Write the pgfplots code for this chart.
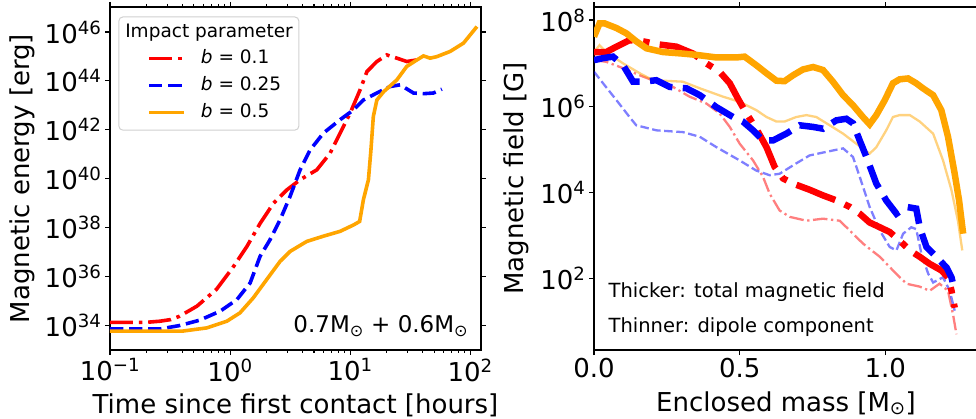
\documentclass[border=0pt]{standalone}
\usepackage{pgfplots}
\pgfplotsset{compat=1.18}
\usepackage{fontspec}
\setmainfont{DejaVu Sans}
\definecolor{mplorange}{rgb}{1,0.647,0}
\begin{document}
\begin{tikzpicture}
\path[use as bounding box] (0pt,0pt) rectangle (976pt,418pt);
\pgfplotsset{
  every axis/.append style={
    scale only axis,
    tick align=outside,
    axis line style={line width=1.3pt},
    every tick/.style={black, line width=1.1pt},
    major tick length=5pt,
    minor tick length=3pt,
    tick label style={font=\fontsize{26}{30}\selectfont},
  },
}
% ---------------- left panel ----------------
\begin{axis}[
  at={(110pt,68pt)}, anchor=south west,
  width=371pt, height=343pt,
  xmode=log, ymode=log,
  xmin=0.1, xmax=123, ymin=1e33, ymax=1.05e47,
  xtick={0.1,1,10,100},
  xticklabels={10\textsuperscript{−1},10\textsuperscript{0},10\textsuperscript{1},10\textsuperscript{2}},
  ytick={1e34,1e36,1e38,1e40,1e42,1e44,1e46},
  yticklabels={10\textsuperscript{34},10\textsuperscript{36},10\textsuperscript{38},10\textsuperscript{40},10\textsuperscript{42},10\textsuperscript{44},10\textsuperscript{46}},
  yminorticks=false,
  xlabel={Time since first contact [hours]},
  ylabel={Magnetic energy [erg]},
  every axis x label/.style={at={(axis description cs:0.5,-0.16)}, anchor=center, font=\fontsize{26}{30}\selectfont},
  every axis y label/.style={at={(axis description cs:-0.237,0.5)}, anchor=center, rotate=90, font=\fontsize{26}{30}\selectfont},
  legend image code/.code={\draw[#1] (0pt,0pt) -- (35pt,0pt);},
  legend style={draw=none, fill=none, at={(rel axis cs:0.1,0.875)}, anchor=north west,
    font=\fontsize{18.5}{22}\selectfont, inner sep=0pt, row sep=10pt, column sep=15pt,
    nodes={inner sep=0pt, text height=13.5pt, text depth=3.5pt}},
  legend cell align=left,
]
\draw[rounded corners=4pt, draw=black!18, fill=white, line width=1pt]
  (rel axis cs:0.024,0.641) rectangle (rel axis cs:0.509,0.971);
\node[font=\fontsize{18.5}{22}\selectfont] at (rel axis cs:0.267,0.924) {Impact parameter};
\addplot[red, line width=3.6pt, dash pattern=on 23pt off 5.8pt on 3.6pt off 5.8pt] coordinates {
(0.1,1.35e34) (0.2,1.35e34) (0.26,1.5e34) (0.32,1.75e34) (0.38,2.4e34) (0.53,6.2e34)
(0.77,3.0e35) (1.07,2.6e36) (1.38,1.7e37) (1.78,1.5e38) (2.3,1.0e39) (2.97,3.5e39)
(3.83,9.1e39) (5.27,2.3e40) (6.81,1.1e41) (8.26,7.4e41) (10,4.8e42) (12.1,4.3e43)
(13.8,2.4e44) (16.7,6.2e44) (20.2,1.15e45) (24.5,8.5e44) (29.6,6.2e44) (36,7.2e44)
};
\addlegendentry{\textit{b} = 0.1}
\addplot[blue, line width=3.6pt, dash pattern=on 13.3pt off 5.8pt] coordinates {
(0.1,7.2e33) (0.26,7.2e33) (0.38,1.0e34) (0.56,1.66e34) (0.83,3.9e34) (1.14,1.15e35)
(1.47,5.5e35) (1.78,6.8e36) (2.15,3.2e37) (2.61,2.1e38) (3.16,1.9e39) (3.83,2.3e40)
(4.64,1.5e41) (6.0,7.4e41) (8.26,2.6e42) (10.7,6.6e42) (12.9,1.66e43) (16.7,3.2e43)
(21.5,5.9e43) (26.1,6.9e43) (33.7,3.2e43) (40.8,3.0e43) (49.4,3.2e43) (58.1,4.6e43)
};
\addlegendentry{\textit{b} = 0.25}
\addplot[mplorange, line width=3.6pt] coordinates {
(0.1,5.9e33) (0.4,5.9e33) (0.64,8.0e33) (0.94,1.5e34) (1.21,3.3e34) (1.56,1.35e35)
(2.02,7.6e35) (2.61,4.2e36) (3.16,1.07e37) (4.36,2.75e37) (6.0,4.5e37) (8.26,7.1e37)
(10.7,1.3e38) (12.0,1.8e38) (12.9,1.4e39) (14.2,9.1e39) (14.9,1.5e41) (15.6,3.5e42)
(16.7,1.66e43) (19.0,3.6e43) (24.5,1.1e44) (29.6,3.9e44) (36.0,7.2e44) (40.8,1.05e45)
(46.4,8.5e44) (52.7,9.8e44) (68.1,1.6e45) (87.9,3.5e45) (113.8,1.66e46)
};
\addlegendentry{\textit{b} = 0.5}
\node[anchor=east, font=\fontsize{23}{27}\selectfont] at (rel axis cs:0.975,0.07)
  {0.7M\textsubscript{⊙} + 0.6M\textsubscript{⊙}};
\end{axis}
% ---------------- right panel ----------------
\begin{axis}[
  at={(594pt,68pt)}, anchor=south west,
  width=384pt, height=343pt,
  ymode=log,
  xmin=0, xmax=1.318, ymin=2.2, ymax=2e8,
  xtick={0,0.5,1}, xticklabels={0.0,0.5,1.0},
  ytick={1e2,1e4,1e6,1e8},
  yticklabels={10\textsuperscript{2},10\textsuperscript{4},10\textsuperscript{6},10\textsuperscript{8}},
  yminorticks=false,
  xlabel={Enclosed mass [M\textsubscript{⊙}]},
  ylabel={Magnetic field [G]},
  every axis x label/.style={at={(axis description cs:0.5,-0.155)}, anchor=center, font=\fontsize{26}{30}\selectfont},
  every axis y label/.style={at={(axis description cs:-0.2016,0.5)}, anchor=center, rotate=90, font=\fontsize{26}{30}\selectfont},
]
% thin (dipole) lines
\addplot[red, opacity=0.5, line width=2.3pt, dash pattern=on 14.5pt off 3.6pt on 2.3pt off 3.6pt] coordinates {
(0,1.17e7) (0.042,1.07e7) (0.1,7.6e6) (0.157,5.2e6) (0.214,3.7e6) (0.271,2.8e6)
(0.328,1.66e6) (0.386,1.15e6) (0.431,6.8e5) (0.466,3.3e5) (0.5,1.35e5) (0.546,5.5e4)
(0.58,2.3e4) (0.603,9.3e3) (0.637,3.8e3) (0.672,2.7e3) (0.729,2.2e3) (0.786,2.45e3)
(0.843,2.2e3) (0.878,1.3e3) (0.923,650) (0.981,320) (1.026,155) (1.072,76)
(1.118,65) (1.152,52) (1.186,76) (1.215,52) (1.232,15) (1.244,5.1)
};
\addplot[blue, opacity=0.5, line width=2.3pt, dash pattern=on 8.5pt off 3.6pt] coordinates {
(0,6.3e6) (0.031,3.4e6) (0.077,1.38e6) (0.122,5.6e5) (0.145,3.6e5) (0.214,2.75e5)
(0.305,2.5e5) (0.363,1.95e5) (0.42,1.12e5) (0.5,5.5e4) (0.557,3.2e4) (0.603,2.5e4)
(0.637,2.7e4) (0.694,4.7e4) (0.74,7.2e4) (0.797,8.7e4) (0.855,1.05e5) (0.889,6.6e4)
(0.912,2.3e4) (0.946,4.6e3) (0.981,1.3e3) (1.015,540) (1.038,450) (1.061,1.1e3)
(1.089,1.55e3) (1.106,1.4e3) (1.124,370) (1.147,130) (1.164,81) (1.198,107)
(1.221,52) (1.238,18)
};
\addplot[mplorange, opacity=0.5, line width=2.3pt] coordinates {
(0,1.8e7) (0.019,2.6e7) (0.042,1.8e7) (0.1,9.8e6) (0.157,5.8e6) (0.191,4.4e6)
(0.237,3.9e6) (0.305,3.7e6) (0.363,2.6e6) (0.443,1.66e6) (0.5,1.26e6) (0.557,8.1e5)
(0.592,5.6e5) (0.626,4.4e5) (0.654,4.4e5) (0.694,5.6e5) (0.729,6.2e5) (0.763,5.6e5)
(0.809,3.6e5) (0.855,2.3e5) (0.9,1.35e5) (0.946,7.9e4) (0.969,1.12e5) (1.003,2.75e5)
(1.026,5.6e5) (1.049,6.2e5) (1.084,6.2e5) (1.118,4.4e5) (1.164,2.3e5) (1.198,5.5e4)
(1.227,1.12e4) (1.249,2.2e3) (1.264,450)
};
% thick (total) lines
\addplot[red, line width=6.5pt, dash pattern=on 41.6pt off 10.4pt on 6.5pt off 10.4pt] coordinates {
(0,1.8e7) (0.042,1.8e7) (0.077,2.4e7) (0.122,3.4e7) (0.168,3.2e7) (0.214,2.75e7)
(0.283,2.4e7) (0.34,1.66e7) (0.386,9.8e6) (0.431,6.3e6) (0.466,3.4e6) (0.494,1.5e6)
(0.523,6.8e5) (0.557,3.0e5) (0.592,1.12e5) (0.62,3.9e4) (0.649,2.1e4) (0.683,1.6e4)
(0.74,1.15e4) (0.786,8.5e3) (0.832,6.5e3) (0.878,4.6e3) (0.912,3.2e3) (0.946,2.0e3)
(0.981,1.55e3) (1.015,1.2e3) (1.049,760) (1.084,450) (1.118,320) (1.152,220)
(1.192,155) (1.215,107) (1.227,52) (1.238,21)
};
\addplot[blue, line width=6.5pt, dash pattern=on 24pt off 10.4pt] coordinates {
(0,1.17e7) (0.031,1.3e7) (0.065,1.41e7) (0.1,8.9e6) (0.134,3.7e6) (0.168,3.7e6)
(0.214,4.0e6) (0.26,2.8e6) (0.317,2.6e6) (0.363,1.8e6) (0.42,9.5e5) (0.477,5.6e5)
(0.511,4.4e5) (0.546,2.75e5) (0.58,1.6e5) (0.614,1.6e5) (0.66,2.3e5) (0.706,3.6e5)
(0.752,3.3e5) (0.786,3.0e5) (0.832,4.7e5) (0.866,5.1e5) (0.889,4.0e5) (0.912,1.6e5)
(0.935,6.6e4) (0.969,1.6e4) (1.003,6.5e3) (1.038,3.2e3) (1.072,4.6e3) (1.106,4.2e3)
(1.118,1.55e3) (1.141,540) (1.175,320) (1.21,180) (1.227,107) (1.238,52)
};
\addplot[mplorange, line width=6.5pt] coordinates {
(0,4.1e7) (0.019,8.3e7) (0.037,8.3e7) (0.077,6.5e7) (0.111,4.9e7) (0.145,3.2e7)
(0.18,2.2e7) (0.237,1.8e7) (0.305,1.66e7) (0.351,1.55e7) (0.42,1.35e7) (0.489,1.35e7)
(0.517,1.41e7) (0.557,8.9e6) (0.592,5.8e6) (0.626,3.9e6) (0.654,3.8e6) (0.683,5.2e6)
(0.717,7.1e6) (0.752,8.1e6) (0.786,6.9e6) (0.82,3.7e6) (0.855,1.8e6) (0.889,1.05e6)
(0.923,5.6e5) (0.946,3.8e5) (0.969,6.2e5) (0.998,1.38e6) (1.026,3.4e6) (1.049,4.2e6)
(1.078,4.4e6) (1.106,3.4e6) (1.129,2.6e6) (1.164,1.8e6) (1.192,8.1e5) (1.215,1.95e5)
(1.238,2.7e4) (1.253,6.5e3) (1.267,1.1e3)
};
\node[anchor=west, font=\fontsize{19.5}{23}\selectfont] at (rel axis cs:0.029,0.169) {Thicker: total magnetic field};
\node[anchor=west, font=\fontsize{19.5}{23}\selectfont] at (rel axis cs:0.029,0.067) {Thinner: dipole component};
\end{axis}
\end{tikzpicture}
\end{document}
